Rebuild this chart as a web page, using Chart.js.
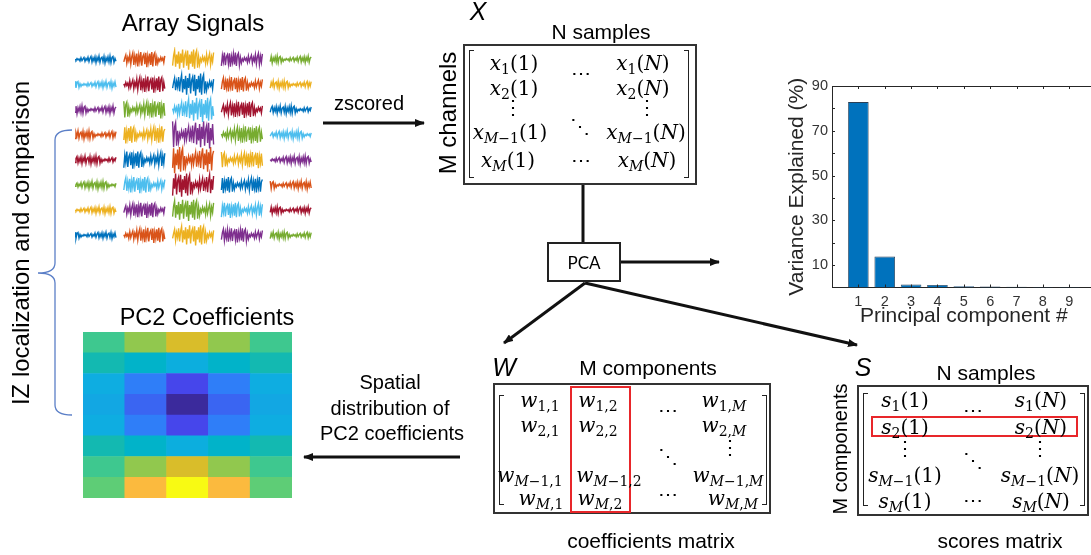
<!DOCTYPE html>
<html>
<head>
<meta charset="utf-8">
<script src="https://cdn.jsdelivr.net/npm/chart.js@4.4.1/dist/chart.umd.min.js"></script>
<style>
html, body { margin: 0; padding: 0; width: 1091px; height: 555px; overflow: hidden; background: #fff; }
body { position: relative; font-family: "Liberation Sans", Arial, sans-serif; color: #000; }
.c { position: absolute; white-space: nowrap; line-height: 1; transform: translate(-50%, -50%); }
.rot { transform: translate(-50%, -50%) rotate(-90deg); }
.it { font-style: italic; font-size: 25px; }
.m { font-family: "DejaVu Serif", serif; font-size: 20px; }
.m i { font-style: italic; }
.m sub { font-size: 70%; vertical-align: -0.3em; line-height: 0; }
.box { position: absolute; border: 2px solid #333; box-sizing: border-box; }
.red { position: absolute; border: 2px solid #e8262a; box-sizing: border-box; }
.bl, .br { position: absolute; width: 5px; border: 1.5px solid #222; box-sizing: border-box; }
.bl { border-right: none; }
.br { border-left: none; }
canvas { position: absolute; }
svg { position: absolute; left: 0; top: 0; }
</style>
</head>
<body>

<canvas id="signals" width="244" height="201" style="left:75px;top:47px"></canvas>
<canvas id="pc2map" width="209" height="166" style="left:83px;top:332px"></canvas>
<canvas id="variance" width="330" height="260" style="left:775px;top:70px"></canvas>

<svg width="1091" height="555">
  <defs>
    <marker id="ah" markerWidth="10" markerHeight="8" refX="9" refY="4" orient="auto" markerUnits="userSpaceOnUse">
      <path d="M0,0 L10,4 L0,8 z" fill="#111"/>
    </marker>
  </defs>
  <g stroke="#111" stroke-width="3" fill="none">
    <line x1="323" y1="123" x2="424" y2="123" marker-end="url(#ah)"/>
    <line x1="583" y1="185" x2="583" y2="242"/>
    <line x1="621" y1="262" x2="719" y2="262" marker-end="url(#ah)"/>
    <line x1="585" y1="283" x2="504" y2="343" marker-end="url(#ah)"/>
    <line x1="585" y1="283" x2="857" y2="345" marker-end="url(#ah)"/>
    <line x1="460" y1="457" x2="304" y2="457" marker-end="url(#ah)"/>
  </g>
  <path d="M72,130 Q55,130 55,140 L55,263 Q55,273 38,273 Q55,273 55,283 L55,405 Q55,415 72,415" stroke="#5b7fc7" stroke-width="1.3" fill="none"/>
</svg>

<div class="c" style="left:193px;top:23px;font-size:24px">Array Signals</div>
<div class="c rot" style="left:21px;top:243px;font-size:24px">IZ localization and comparison</div>
<div class="c" style="left:369px;top:103px;font-size:20px">zscored</div>
<div class="c" style="left:207px;top:318px;font-size:23.5px">PC2 Coefficients</div>
<div class="c" style="left:390px;top:382px;font-size:20px">Spatial</div>
<div class="c" style="left:390px;top:408px;font-size:20px">distribution of</div>
<div class="c" style="left:392px;top:433px;font-size:20px">PC2 coefficients</div>

<!-- X matrix -->
<div class="c it" style="left:478px;top:11px">X</div>
<div class="c" style="left:601px;top:31px;font-size:21px">N samples</div>
<div class="c rot" style="left:448px;top:113px;font-size:24px">M channels</div>
<div class="box" style="left:463px;top:44px;width:234px;height:141px"></div>
<div class="bl" style="left:469px;top:50px;height:128px"></div>
<div class="br" style="left:684px;top:50px;height:128px"></div>
<div class="c m" style="left:514px;top:63px"><i>x</i><sub>1</sub>(1)</div>
<div class="c m" style="left:514px;top:88px"><i>x</i><sub>2</sub>(1)</div>
<div class="c m" style="left:513px;top:107px">⋮</div>
<div class="c m" style="left:510px;top:132px"><i>x</i><sub><i>M</i>−1</sub>(1)</div>
<div class="c m" style="left:508px;top:160px"><i>x</i><sub><i>M</i></sub>(1)</div>
<div class="c m" style="left:581px;top:73px">⋯</div>
<div class="c m" style="left:580px;top:126px">⋱</div>
<div class="c m" style="left:581px;top:160px">⋯</div>
<div class="c m" style="left:643px;top:63px"><i>x</i><sub>1</sub>(<i>N</i>)</div>
<div class="c m" style="left:643px;top:88px"><i>x</i><sub>2</sub>(<i>N</i>)</div>
<div class="c m" style="left:647px;top:107px">⋮</div>
<div class="c m" style="left:646px;top:132px"><i>x</i><sub><i>M</i>−1</sub>(<i>N</i>)</div>
<div class="c m" style="left:647px;top:160px"><i>x</i><sub><i>M</i></sub>(<i>N</i>)</div>

<div style="position:absolute;left:547px;top:242px;width:74px;height:40px;border:2px solid #222;box-sizing:border-box;background:#fff"></div>
<div class="c" style="left:584px;top:262px;font-family:Lato,'Open Sans',sans-serif;font-size:17px">PCA</div>

<!-- W matrix -->
<div class="c it" style="left:504px;top:367px">W</div>
<div class="c" style="left:648px;top:367px;font-size:21px">M components</div>
<div class="box" style="left:493px;top:383px;width:278px;height:131px"></div>
<div class="bl" style="left:499px;top:395px;height:110px"></div>
<div class="br" style="left:762px;top:395px;height:110px"></div>
<div class="red" style="left:570px;top:386px;width:61px;height:127px"></div>
<div class="c m" style="left:540px;top:400px"><i>w</i><sub>1,1</sub></div>
<div class="c m" style="left:540px;top:425px"><i>w</i><sub>2,1</sub></div>
<div class="c m" style="left:530px;top:475px"><i>w</i><sub><i>M</i>−1,1</sub></div>
<div class="c m" style="left:541px;top:498px"><i>w</i><sub><i>M</i>,1</sub></div>
<div class="c m" style="left:598px;top:400px"><i>w</i><sub>1,2</sub></div>
<div class="c m" style="left:598px;top:425px"><i>w</i><sub>2,2</sub></div>
<div class="c m" style="left:609px;top:475px"><i>w</i><sub><i>M</i>−1,2</sub></div>
<div class="c m" style="left:600px;top:498px"><i>w</i><sub><i>M</i>,2</sub></div>
<div class="c m" style="left:668px;top:410px">⋯</div>
<div class="c m" style="left:668px;top:456px">⋱</div>
<div class="c m" style="left:668px;top:494px">⋯</div>
<div class="c m" style="left:724px;top:400px"><i>w</i><sub>1,<i>M</i></sub></div>
<div class="c m" style="left:724px;top:425px"><i>w</i><sub>2,<i>M</i></sub></div>
<div class="c m" style="left:730px;top:447px">⋮</div>
<div class="c m" style="left:728px;top:475px"><i>w</i><sub><i>M</i>−1,<i>M</i></sub></div>
<div class="c m" style="left:733px;top:498px"><i>w</i><sub><i>M</i>,<i>M</i></sub></div>
<div class="c" style="left:651px;top:540px;font-size:21px">coefficients matrix</div>

<!-- S matrix -->
<div class="c it" style="left:863px;top:367px">S</div>
<div class="c" style="left:986px;top:372px;font-size:21px">N samples</div>
<div class="c rot" style="left:840px;top:449px;font-size:20px">M components</div>
<div class="box" style="left:857px;top:385px;width:232px;height:131px"></div>
<div class="bl" style="left:863px;top:393px;height:113px"></div>
<div class="br" style="left:1080px;top:393px;height:113px"></div>
<div class="red" style="left:871px;top:416px;width:207px;height:21px"></div>
<div class="c m" style="left:905px;top:400px"><i>s</i><sub>1</sub>(1)</div>
<div class="c m" style="left:905px;top:427px"><i>s</i><sub>2</sub>(1)</div>
<div class="c m" style="left:905px;top:448px">⋮</div>
<div class="c m" style="left:905px;top:475px"><i>s</i><sub><i>M</i>−1</sub>(1)</div>
<div class="c m" style="left:905px;top:501px"><i>s</i><sub><i>M</i></sub>(1)</div>
<div class="c m" style="left:973px;top:410px">⋯</div>
<div class="c m" style="left:973px;top:460px">⋱</div>
<div class="c m" style="left:973px;top:500px">⋯</div>
<div class="c m" style="left:1041px;top:400px"><i>s</i><sub>1</sub>(<i>N</i>)</div>
<div class="c m" style="left:1041px;top:427px"><i>s</i><sub>2</sub>(<i>N</i>)</div>
<div class="c m" style="left:1040px;top:448px">⋮</div>
<div class="c m" style="left:1040px;top:475px"><i>s</i><sub><i>M</i>−1</sub>(<i>N</i>)</div>
<div class="c m" style="left:1041px;top:501px"><i>s</i><sub><i>M</i></sub>(<i>N</i>)</div>
<div class="c" style="left:1000px;top:540px;font-size:21px">scores matrix</div>

<script>
// variance explained by each principal component (%)
const components = [1, 2, 3, 4, 5, 6, 7, 8, 9];
const varianceExplained = [82.8, 13.8, 1.3, 1.1, 0.6, 0.5, 0.3, 0.2, 0.2];
const yTickLabels = [10, 30, 50, 70, 90];

// PC2 coefficients on the 8 x 5 electrode grid (top row first, scaled 0..1)
const pc2Coefficients = [
  [0.55, 0.73, 0.82, 0.73, 0.55],
  [0.45, 0.36, 0.28, 0.36, 0.45],
  [0.27, 0.18, 0.09, 0.18, 0.27],
  [0.26, 0.14, 0.00, 0.14, 0.26],
  [0.27, 0.18, 0.09, 0.18, 0.27],
  [0.45, 0.36, 0.28, 0.36, 0.45],
  [0.55, 0.73, 0.82, 0.73, 0.55],
  [0.64, 0.91, 1.00, 0.91, 0.64]
];

// array signals: one short trace shape, amplitude per channel (row x column)
const traceShape = [0.1, -0.2, 0.3, -0.1, 0.2, -0.4, 0.5, -0.3, 0.2, 0.6, -0.5, 0.3, -0.2, 0.7,
  -0.6, 0.4, 0.9, -0.7, 0.5, -0.4, 0.8, -0.9, 0.6, -0.3, 1.0, -0.8, 0.4, 0.7, -0.6, 0.9,
  -1.0, 0.5, -0.4, 0.8, -0.7, 1.0, -0.9, 0.6, 0.9, -0.8, 0.3, -0.5];
const channelAmplitude = [
  [0.14, 0.30, 0.40, 0.28, 0.14],
  [0.14, 0.32, 0.44, 0.30, 0.15],
  [0.16, 0.34, 0.48, 0.32, 0.16],
  [0.16, 0.34, 0.54, 0.34, 0.16],
  [0.16, 0.34, 0.52, 0.32, 0.16],
  [0.15, 0.32, 0.46, 0.32, 0.16],
  [0.14, 0.30, 0.42, 0.30, 0.14],
  [0.13, 0.30, 0.40, 0.28, 0.14]
];

const lineColors = ['#0072BD', '#D95319', '#EDB120', '#7E2F8E', '#77AC30', '#4DBEEE', '#A2142F'];
const parula = ['#3b2a9c', '#4646ec', '#2f7ff8', '#0daee0', '#00b3c8', '#14b9b0',
  '#3cc890', '#5ccd78', '#8fc84f', '#d8bd2a', '#fbb93e', '#f8fa13'];

function hexToRgb(h) {
  return [1, 3, 5].map(i => parseInt(h.slice(i, i + 2), 16));
}
function colormap(v) {
  const p = Math.max(0, Math.min(1, v)) * (parula.length - 1);
  const i = Math.min(Math.floor(p), parula.length - 2);
  const f = p - i;
  const a = hexToRgb(parula[i]), b = hexToRgb(parula[i + 1]);
  const c = a.map((x, k) => Math.round(x + (b[k] - x) * f));
  return `rgb(${c[0]},${c[1]},${c[2]})`;
}

// --- array signals ---
const rows = channelAmplitude.length;
const traceDatasets = [];
channelAmplitude.forEach((rowAmp, r) => {
  rowAmp.forEach((amp, c) => {
    const n = traceShape.length;
    const shift = ((r * 5 + c) * 7) % n;
    const pts = traceShape.map((_, i) => ({
      x: c + i * 0.84 / (n - 1),
      y: rows - r - 0.5 + amp * traceShape[(i + shift) % n]
    }));
    traceDatasets.push({
      data: pts,
      borderColor: lineColors[(r * 5 + c) % lineColors.length],
      borderWidth: 1.4,
      pointRadius: 0
    });
  });
});

new Chart(document.getElementById('signals'), {
  type: 'line',
  data: { datasets: traceDatasets },
  options: {
    responsive: false,
    animation: false,
    plugins: { legend: { display: false }, tooltip: { enabled: false } },
    scales: {
      x: { type: 'linear', min: 0, max: 5, display: false },
      y: { type: 'linear', min: 0, max: rows, display: false }
    }
  }
});

// --- PC2 heat map, drawn as stacked unit bars (bottom row first) ---
const mapDatasets = pc2Coefficients.slice().reverse().map(row => ({
  data: row.map(() => 1),
  backgroundColor: row.map(colormap),
  borderWidth: 0,
  barPercentage: 1,
  categoryPercentage: 1
}));

new Chart(document.getElementById('pc2map'), {
  type: 'bar',
  data: { labels: ['1', '2', '3', '4', '5'], datasets: mapDatasets },
  options: {
    responsive: false,
    animation: false,
    plugins: { legend: { display: false }, tooltip: { enabled: false } },
    scales: {
      x: { stacked: true, display: false },
      y: { stacked: true, display: false, min: 0, max: pc2Coefficients.length }
    }
  }
});

// --- variance explained bar chart ---
const axisColor = '#262626';
const innerTicks = {
  id: 'innerTicks',
  afterDraw(chart) {
    const { ctx, chartArea: a, scales: { x, y } } = chart;
    ctx.save();
    ctx.strokeStyle = axisColor;
    ctx.lineWidth = 1;
    ctx.beginPath();
    ctx.moveTo(a.left, a.top + 0.5);
    ctx.lineTo(a.right, a.top + 0.5);
    components.forEach(v => {
      const px = Math.round(x.getPixelForValue(v)) + 0.5;
      ctx.moveTo(px, a.bottom);
      ctx.lineTo(px, a.bottom - 3);
      ctx.moveTo(px, a.top);
      ctx.lineTo(px, a.top + 3);
    });
    y.ticks.forEach(t => {
      if (t.value <= 0) return;
      const py = Math.round(y.getPixelForValue(t.value)) + 0.5;
      ctx.moveTo(a.left, py);
      ctx.lineTo(a.left + 3, py);
    });
    ctx.stroke();
    ctx.restore();
  }
};

new Chart(document.getElementById('variance'), {
  type: 'bar',
  data: {
    datasets: [{
      data: components.map((c, i) => ({ x: c, y: varianceExplained[i] })),
      backgroundColor: '#0072BD',
      borderColor: '#2a3f55',
      borderWidth: 0.8,
      borderSkipped: 'bottom',
      barPercentage: 0.78,
      categoryPercentage: 1
    }]
  },
  options: {
    responsive: false,
    animation: false,
    layout: { padding: { left: 6, top: 16, right: 9.4, bottom: 0 } },
    plugins: { legend: { display: false }, tooltip: { enabled: false } },
    scales: {
      x: {
        type: 'linear', min: 0, max: 10, offset: false,
        grid: { display: false, drawTicks: false },
        border: { display: true, color: axisColor, width: 1 },
        ticks: {
          stepSize: 1, padding: 6, color: '#333',
          font: { family: 'Liberation Sans', size: 14.5 },
          callback: v => components.includes(v) ? String(v) : ''
        },
        title: {
          display: true, text: 'Principal component #', color: axisColor,
          font: { family: 'Liberation Sans', size: 21 },
          padding: { top: 0, bottom: 1 }
        },
        afterFit(s) { s.height = 42.5; }
      },
      y: {
        min: 0, max: 90,
        grid: { display: false, drawTicks: false },
        border: { display: true, color: axisColor, width: 1 },
        ticks: {
          stepSize: 10, padding: 4, color: '#333',
          font: { family: 'Liberation Sans', size: 14.5 },
          callback: v => yTickLabels.includes(v) ? String(v) : ''
        },
        title: {
          display: true, text: 'Variance Explained (%)', color: axisColor,
          font: { family: 'Liberation Sans', size: 21 }
        },
        afterFit(s) { s.width = 51; }
      }
    }
  },
  plugins: [innerTicks]
});
</script>
</body>
</html>
